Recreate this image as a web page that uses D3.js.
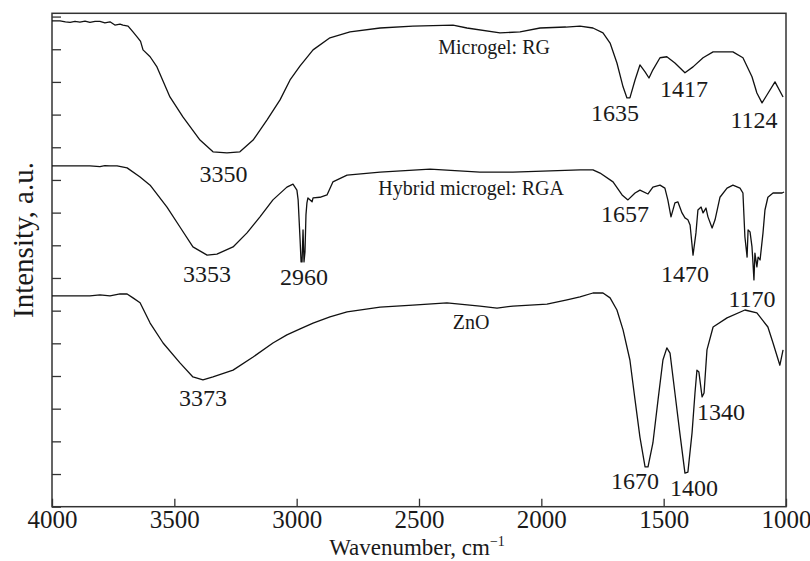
<!DOCTYPE html>
<html>
<head>
<meta charset="utf-8">
<script src="https://cdn.jsdelivr.net/npm/d3@7"></script>
<style>
  html, body { margin: 0; padding: 0; background: #fff; }
  svg { display: block; }
  text { font-family: "Liberation Serif", "Times New Roman", serif; fill: #1a1a1a; }
</style>
</head>
<body>
<svg id="chart" width="810" height="561"></svg>
<script>
// FTIR spectra: [wavenumber (cm-1), intensity (a.u., stacked offsets)]
const spectrumRG = [
  [4000,14.87],[3967,14.87],[3945,14.84],[3926,14.82],[3906,14.85],[3886,14.83],[3865,14.86],
  [3845,14.82],[3824,14.85],[3804,14.85],[3784,14.81],[3763,14.84],[3743,14.74],[3722,14.77],
  [3710,14.74],[3689,14.71],[3669,14.53],[3649,14.35],[3638,14.24],[3628,13.98],[3599,13.77],
  [3571,13.46],[3518,12.54],[3465,11.93],[3395,11.22],[3342,10.86],[3285,10.83],[3232,10.86],
  [3178,11.22],[3121,11.84],[3068,12.45],[3027,13.06],[2986,13.49],[2933,13.98],[2864,14.35],
  [2782,14.53],[2659,14.65],[2525,14.71],[2361,14.74],[2304,14.65],[2169,14.50],[2087,14.53],
  [2005,14.65],[1900,14.68],[1842,14.71],[1789,14.65],[1748,14.50],[1719,14.19],[1691,13.58],
  [1666,12.85],[1650,12.51],[1638,12.51],[1617,13.06],[1597,13.52],[1576,13.31],[1560,13.12],
  [1544,13.37],[1515,13.74],[1487,13.77],[1454,13.58],[1413,13.28],[1380,13.46],[1339,13.74],
  [1298,13.92],[1217,13.92],[1176,13.74],[1139,13.16],[1119,12.66],[1098,12.36],[1078,12.60],
  [1045,13.00],[1012,12.54]
];

const spectrumRGA = [
  [4000,10.43],[3926,10.43],[3845,10.43],[3804,10.41],[3784,10.44],[3763,10.43],[3734,10.43],
  [3693,10.37],[3640,10.09],[3599,9.84],[3530,9.17],[3477,8.56],[3424,7.95],[3366,7.70],
  [3326,7.73],[3260,7.95],[3203,8.38],[3150,8.87],[3097,9.39],[3040,9.78],[3015,9.87],
  [2999,9.69],[2994,9.39],[2986,8.16],[2982,7.49],[2978,7.49],[2974,8.47],[2970,7.49],
  [2966,7.80],[2962,8.93],[2958,9.30],[2954,9.45],[2937,9.33],[2933,9.45],[2905,9.47],
  [2876,9.54],[2852,9.94],[2794,10.15],[2659,10.24],[2455,10.33],[2251,10.24],[2116,10.24],
  [1842,10.31],[1789,10.31],[1760,10.21],[1707,9.94],[1670,9.54],[1646,9.39],[1617,9.60],
  [1597,9.69],[1564,9.57],[1544,9.78],[1515,9.84],[1495,9.75],[1483,9.39],[1470,8.87],
  [1454,9.30],[1442,9.33],[1425,8.99],[1413,8.84],[1401,8.78],[1392,8.62],[1380,7.70],
  [1368,8.38],[1360,9.08],[1347,9.17],[1339,8.99],[1327,9.14],[1319,8.87],[1302,8.53],
  [1290,8.78],[1270,9.47],[1241,9.75],[1217,9.84],[1188,9.75],[1176,9.60],[1168,8.26],
  [1159,7.64],[1155,8.47],[1147,8.41],[1139,7.95],[1135,7.46],[1131,6.94],[1127,7.76],
  [1119,7.34],[1114,7.64],[1106,7.55],[1094,8.38],[1086,9.08],[1074,9.47],[1053,9.60],
  [1016,9.60],[1008,9.63]
];

const spectrumZnO = [
  [4000,6.45],[3926,6.45],[3845,6.45],[3804,6.48],[3763,6.45],[3722,6.51],[3693,6.51],
  [3669,6.39],[3640,6.24],[3599,5.62],[3546,5.01],[3477,4.40],[3424,3.97],[3383,3.88],
  [3342,3.97],[3260,4.18],[3178,4.58],[3097,5.01],[3040,5.26],[2986,5.44],[2933,5.62],
  [2864,5.81],[2794,5.96],[2659,6.11],[2525,6.17],[2386,6.24],[2251,6.14],[2181,6.08],
  [2116,6.14],[1977,6.20],[1895,6.33],[1842,6.42],[1789,6.54],[1748,6.54],[1719,6.39],
  [1691,6.02],[1666,5.41],[1638,4.49],[1617,3.27],[1597,2.13],[1576,1.22],[1564,1.22],
  [1544,1.95],[1523,3.27],[1503,4.49],[1487,4.86],[1474,4.70],[1454,3.48],[1434,2.26],
  [1413,1.03],[1401,1.06],[1384,2.26],[1372,3.48],[1364,4.18],[1356,4.12],[1343,3.36],
  [1335,3.48],[1323,4.80],[1298,5.50],[1241,5.78],[1168,6.02],[1119,5.93],[1074,5.50],
  [1053,5.01],[1025,4.33],[1012,4.80]
];

// Sample names, placed at [wavenumber, intensity]
const sampleNames = ["Microgel: RG", "Hybrid microgel: RGA", "ZnO"];
const sampleNamePos = [[2193,13.86],[2287,9.54],[2287,5.44]];

// Peak annotations: text and anchor [wavenumber, intensity] of the label baseline
const peakText = ["3350","1635","1417","1124","3353","2960","1657","1470","1170","3373","1670","1400","1340"];
const peakPos = [
  [3299,9.94],[1699,11.81],[1417,12.54],[1131,11.60],
  [3366,6.88],[2970,6.78],[1658,8.71],[1413,6.88],[1139,6.11],
  [3383,3.08],[1617,0.54],[1376,0.33],[1266,2.65]
];

const xTicks = [4000, 3500, 3000, 2500, 2000, 1500, 1000];
const yTicks = [0,1,2,3,4,5,6,7,8,9,10,11,12,13,14,15];

const svg = d3.select("#chart");
const plotLeft = 52, plotRight = 786, plotTop = 13.3, plotBottom = 506.7;

const x = d3.scaleLinear().domain([4000, 1000]).range([plotLeft, plotRight]);
const y = d3.scaleLinear().domain([0, 15.1]).range([plotBottom, plotTop]);

// Axes with inward ticks
const xAxis = svg.append("g")
  .attr("transform", `translate(0,${plotBottom})`)
  .call(d3.axisBottom(x).tickValues(xTicks).tickSize(-8).tickPadding(4).tickFormat(d3.format("d")));
xAxis.select(".domain").remove();
xAxis.selectAll(".tick line").attr("stroke", "#333").attr("stroke-width", 1.3);
xAxis.selectAll(".tick text")
  .style("font-family", '"Liberation Serif", serif')
  .style("font-size", "25px").attr("fill", "#1a1a1a");

const yAxis = svg.append("g")
  .attr("transform", `translate(${plotLeft},0)`)
  .call(d3.axisLeft(y).tickValues(yTicks).tickSize(-9).tickFormat(""));
yAxis.select(".domain").remove();
yAxis.selectAll(".tick line").attr("stroke", "#333").attr("stroke-width", 1.3);

// Frame
svg.append("rect")
  .attr("x", plotLeft).attr("y", plotTop)
  .attr("width", plotRight - plotLeft).attr("height", plotBottom - plotTop)
  .attr("fill", "none").attr("stroke", "#333").attr("stroke-width", 1.5);

// Spectra
const line = d3.line().x(d => x(d[0])).y(d => y(d[1]));
[spectrumRG, spectrumRGA, spectrumZnO].forEach(s => {
  svg.append("path")
    .datum(s)
    .attr("d", line)
    .attr("fill", "none")
    .attr("stroke", "#111")
    .attr("stroke-width", 1.3)
    .attr("stroke-linejoin", "round");
});

// Sample names
svg.selectAll("text.sample")
  .data(sampleNames)
  .join("text")
  .attr("class", "sample")
  .attr("x", (d, i) => x(sampleNamePos[i][0]))
  .attr("y", (d, i) => y(sampleNamePos[i][1]))
  .attr("text-anchor", "middle")
  .style("font-size", "20px")
  .text(d => d);

// Peak annotations
svg.selectAll("text.peak")
  .data(peakText)
  .join("text")
  .attr("class", "peak")
  .attr("x", (d, i) => x(peakPos[i][0]))
  .attr("y", (d, i) => y(peakPos[i][1]))
  .attr("text-anchor", "middle")
  .style("font-size", "24px")
  .text(d => d);

// Axis titles
const xTitle = svg.append("text")
  .attr("x", (plotLeft + plotRight) / 2 - 2)
  .attr("y", 555)
  .attr("text-anchor", "middle")
  .style("font-size", "23px");
xTitle.append("tspan").text("Wavenumber, cm");
xTitle.append("tspan").attr("dy", -9).style("font-size", "14px").text("−1");

svg.append("text")
  .attr("transform", `translate(33,240) rotate(-90)`)
  .attr("text-anchor", "middle")
  .style("font-size", "29px")
  .text("Intensity, a.u.");
</script>
</body>
</html>
